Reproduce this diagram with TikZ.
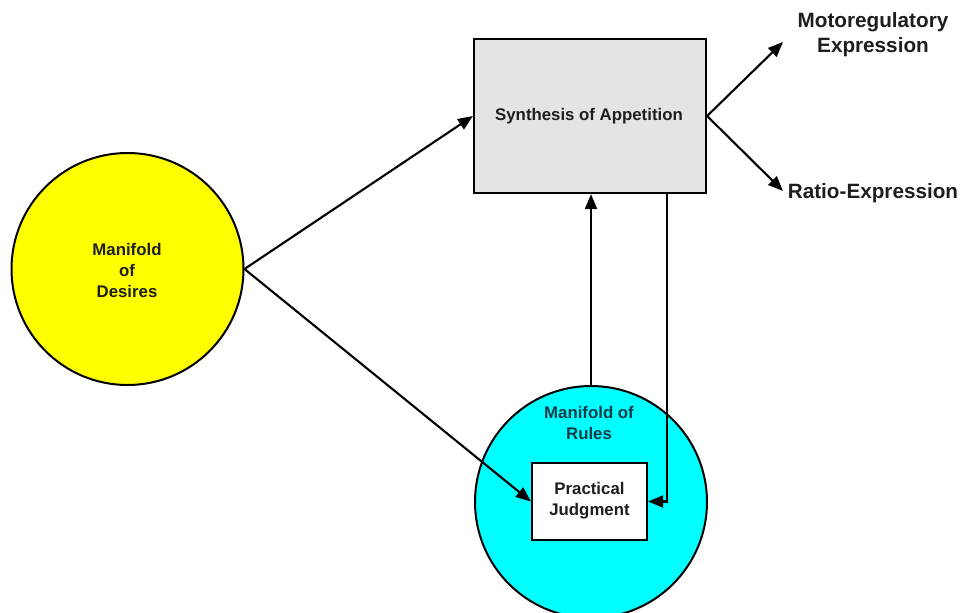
\documentclass[tikz,border=0pt]{standalone}
\usepackage{fontspec}
\setmainfont{Liberation Sans}
\usetikzlibrary{arrows.meta}
\definecolor{txt}{HTML}{1E1E1E}
\definecolor{boxgray}{HTML}{E4E4E4}
\definecolor{rulestxt}{HTML}{0E3A48}
\begin{document}
\begin{tikzpicture}[x=1pt,y=-1pt,
  arr/.style={line width=2.1pt,-{Triangle[length=15pt,width=12pt]}},
  ring/.style={circle,draw=black,line width=2pt,minimum size=232pt,inner sep=0pt},
  boxn/.style={rectangle,draw=black,line width=2.2pt,inner sep=0pt},
  lab/.style={font=\bfseries\fontsize{16.8}{21}\selectfont,text=txt,align=center},
  biglab/.style={font=\bfseries\fontsize{20.7}{25}\selectfont,text=txt,align=center}]
\useasboundingbox (0,0) rectangle (964,613);
\clip (0,0) rectangle (964,613);
\fill[white] (0,0) rectangle (964,613);
% nodes
\node[ring,fill={rgb,255:red,255;green,255;blue,0}] (desires) at (127.5,269) {};
\node[lab] (desireslab) at (127,270) {Manifold\\of\\Desires};
\node[boxn,fill=boxgray,minimum width=232pt,minimum height=154pt] (synth) at (590,116) {};
\node[lab] (synthlab) at (589,116) {Synthesis of Appetition};
\node[ring,fill={rgb,255:red,0;green,255;blue,255}] (rules) at (591,502) {};
\node[lab,text=rulestxt] (ruleslab) at (589,423) {Manifold of\\Rules};
\node[boxn,fill=white,minimum width=115pt,minimum height=77pt] (judg) at (589.5,501.5) {};
\node[lab] (judglab) at (589.5,501) {Practical\\Judgment};
\node[biglab] (motor) at (873,35) {Motoregulatory\\Expression};
\node[biglab] (ratio) at (873,193) {Ratio-Expression};
\coordinate (m1) at (783,42);
\coordinate (r1) at (783,191);
\coordinate (s2) at (667,193);
% connectors
\draw[arr] (desires.east) -- (synth.west);
\draw[arr] (desires.east) -- (judg.west);
\draw[arr] (rules.north) -- (rules.north |- synth.south);
\draw[arr] (s2) |- (judg.east);
\draw[arr] (synth.east) -- (m1);
\draw[arr] (synth.east) -- (r1);
\end{tikzpicture}
\end{document}
